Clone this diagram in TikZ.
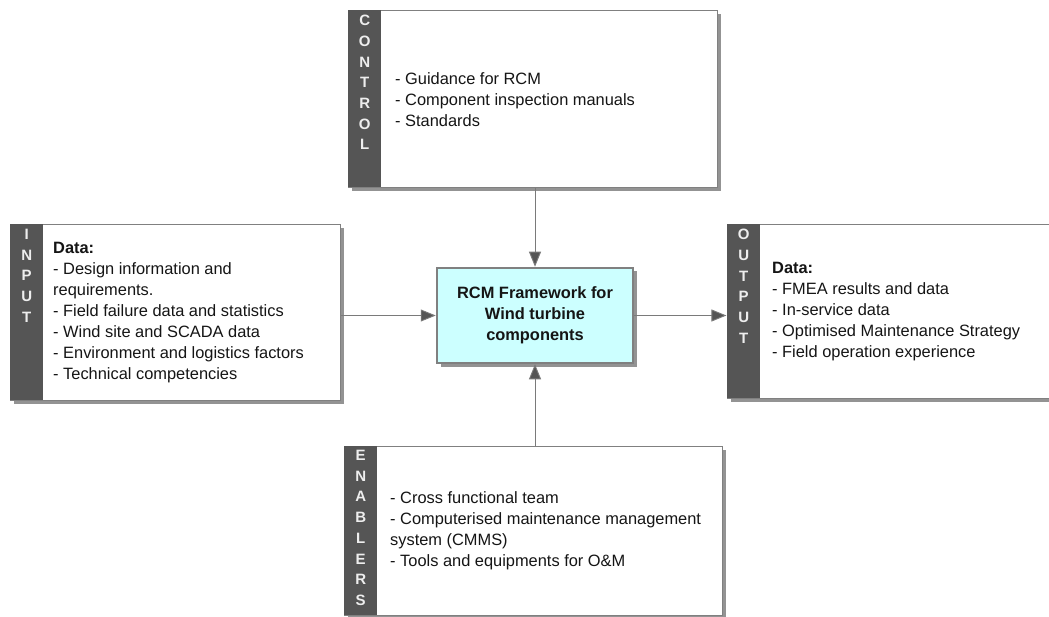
\documentclass[tikz,border=0pt]{standalone}
\usepackage{fontspec}
\setmainfont{Liberation Sans}
\usetikzlibrary{arrows.meta,shadows}

\definecolor{barfill}{HTML}{555555}
\definecolor{barletter}{HTML}{EEEEEE}
\definecolor{edge}{HTML}{808080}
\definecolor{shade}{HTML}{939393}
\definecolor{corefill}{HTML}{CCFFFF}
\definecolor{linkc}{HTML}{7A7A7A}
\definecolor{tipc}{HTML}{555555}
\definecolor{ink}{HTML}{151515}

\tikzset{
  panel/.style={draw=edge, line width=1.3pt, fill=white, anchor=north west, inner sep=0pt,
    drop shadow={shadow xshift=3.5pt, shadow yshift=-3.5pt, fill=shade, opacity=1}},
  sidebar/.style={fill=barfill, anchor=north west, inner sep=0pt, minimum width=33pt},
  barword/.style={anchor=north, inner sep=0pt, align=center, text=barletter,
    font=\bfseries\fontsize{15}{20.7}\selectfont},
  listing/.style={anchor=west, inner sep=0pt, align=left, text=ink,
    font=\fontsize{16.4}{21}\selectfont},
  core/.style={draw=edge, line width=1.3pt, fill=corefill, inner sep=0pt,
    minimum width=196pt, minimum height=95pt, align=center, text=ink,
    font=\bfseries\fontsize{16.4}{21}\selectfont,
    drop shadow={shadow xshift=3.5pt, shadow yshift=-3.5pt, fill=shade, opacity=1}},
  link/.style={draw=linkc, line width=0.9pt,
    -{Triangle[length=15pt, width=12pt, fill=tipc]}, shorten >=0.6pt},
}

\begin{document}
\begin{tikzpicture}[x=1pt, y=-1pt]
  \path[use as bounding box, clip] (0,0) rectangle (1049,617);
  \fill[white] (0,0) rectangle (1049,617);

  % CONTROL
  \node[panel, minimum width=369pt, minimum height=177pt] (control) at (348,10) {};
  \node[sidebar, minimum height=177pt] (controlbar) at (control.north west) {};
  \node[barword, yshift=-5pt] (controlword) at (controlbar.north) {C\\O\\N\\T\\R\\O\\L};
  \node[listing] (controltext) at ([xshift=47pt]control.west)
    {- Guidance for RCM\\- Component inspection manuals\\- Standards};

  % INPUT
  \node[panel, minimum width=330pt, minimum height=176pt] (input) at (10,224) {};
  \node[sidebar, minimum height=176pt] (inputbar) at (input.north west) {};
  \node[barword, yshift=-5pt] (inputword) at (inputbar.north) {I\\N\\P\\U\\T};
  \node[listing] (inputtext) at ([xshift=43pt]input.west)
    {\textbf{Data:}\\- Design information and\\requirements.\\- Field failure data and statistics\\- Wind site and SCADA data\\- Environment and logistics factors\\- Technical competencies};

  % OUTPUT
  \node[panel, minimum width=345pt, minimum height=174pt] (output) at (727,224) {};
  \node[sidebar, minimum height=174pt] (outputbar) at (output.north west) {};
  \node[barword, yshift=-5pt] (outputword) at (outputbar.north) {O\\U\\T\\P\\U\\T};
  \node[listing] (outputtext) at ([xshift=45pt]output.west)
    {\textbf{Data:}\\- FMEA results and data\\- In-service data\\- Optimised Maintenance Strategy\\- Field operation experience};

  % ENABLERS
  \node[panel, minimum width=378pt, minimum height=169pt] (enablers) at (344,446) {};
  \node[sidebar, minimum height=169pt] (enablersbar) at (enablers.north west) {};
  \node[barword, yshift=-4pt] (enablersword) at (enablersbar.north) {E\\N\\A\\B\\L\\E\\R\\S};
  \node[listing] (enablerstext) at ([xshift=46pt]enablers.west)
    {- Cross functional team\\- Computerised maintenance management\\system (CMMS)\\- Tools and equipments for O\&M};

  % central framework box
  \node[core] (frame) at (535,315.5) {RCM Framework for\\Wind turbine\\components};

  % connectors
  \draw[link] (control.south -| frame.north) -- (frame.north);
  \draw[link] (enablers.north -| frame.south) -- (frame.south);
  \draw[link] (input.east |- frame.west) -- (frame.west);
  \draw[link] (frame.east) -- (output.west |- frame.east);
\end{tikzpicture}
\end{document}
